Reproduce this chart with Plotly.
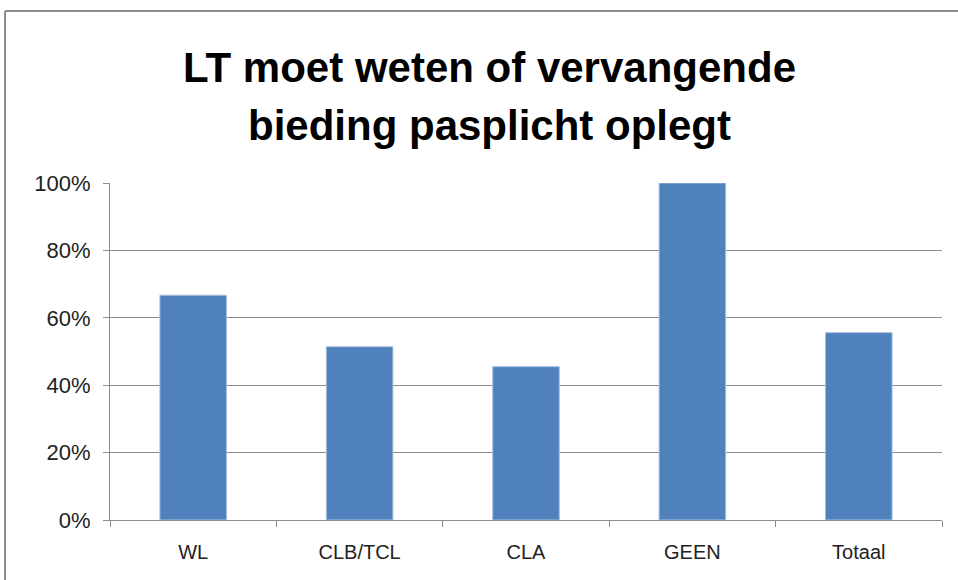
import plotly.graph_objects as go

categories = ["WL", "CLB/TCL", "CLA", "GEEN", "Totaal"]
values = [0.667, 0.514, 0.455, 1.0, 0.556]
y_ticks = [0, 0.2, 0.4, 0.6, 0.8, 1.0]
y_tick_labels = ["0%", "20%", "40%", "60%", "80%", "100%"]
title_lines = ["LT moet weten of vervangende", "bieding pasplicht oplegt"]

W, H = 958, 580
L, R, T, B = 110, 16, 183, 60
pw, ph = W - L - R, H - T - B

def px_x(px):
    return (px - L) / pw

def px_y(py):
    return (H - B - py) / ph

FONT = "Liberation Sans, Arial, sans-serif"

fig = go.Figure(go.Bar(
    x=categories, y=values,
    marker=dict(color="#4F81BD", line=dict(color="#A7BEDD", width=1)),
    width=0.4,
))

fig.update_layout(
    width=W, height=H,
    margin=dict(l=L, r=R, t=T, b=B),
    paper_bgcolor="white", plot_bgcolor="white",
    showlegend=False,
    font=dict(family=FONT, color="#222222"),
)
fig.update_yaxes(
    range=[0, 1.0], tickvals=y_ticks, ticktext=y_tick_labels,
    showgrid=True, gridcolor="#8C8C8C", gridwidth=1,
    showline=True, linecolor="#8C8C8C", linewidth=1,
    ticks="outside", ticklen=6, tickcolor="#8C8C8C",
    tickfont=dict(size=22, color="#222222"),
    ticklabelstandoff=8,
    zeroline=False,
)
fig.update_xaxes(
    showline=True, linecolor="#8C8C8C", linewidth=1,
    ticks="outside", ticklen=6, tickcolor="#8C8C8C", tickson="boundaries",
    tickfont=dict(size=20, color="#222222"),
    ticklabelstandoff=14,
    showgrid=False,
)

for line, cy in zip(title_lines, [67, 125]):
    fig.add_annotation(
        text=line, xref="paper", yref="paper",
        x=px_x(489), y=px_y(cy), xanchor="center", yanchor="middle",
        showarrow=False,
        font=dict(size=42, color="#000000", family=FONT, weight="bold"),
    )

# outer chart border (left and top visible)
fig.add_shape(type="line", xref="paper", yref="paper",
              x0=px_x(5), x1=px_x(5), y0=px_y(11), y1=px_y(585),
              line=dict(color="#8C8C8C", width=2))
fig.add_shape(type="line", xref="paper", yref="paper",
              x0=px_x(5), x1=px_x(965), y0=px_y(11), y1=px_y(11),
              line=dict(color="#8C8C8C", width=2))

fig.write_html("out.html", config={"displayModeBar": False},
               post_script="document.body.style.margin='0';document.body.style.overflow='hidden';")
